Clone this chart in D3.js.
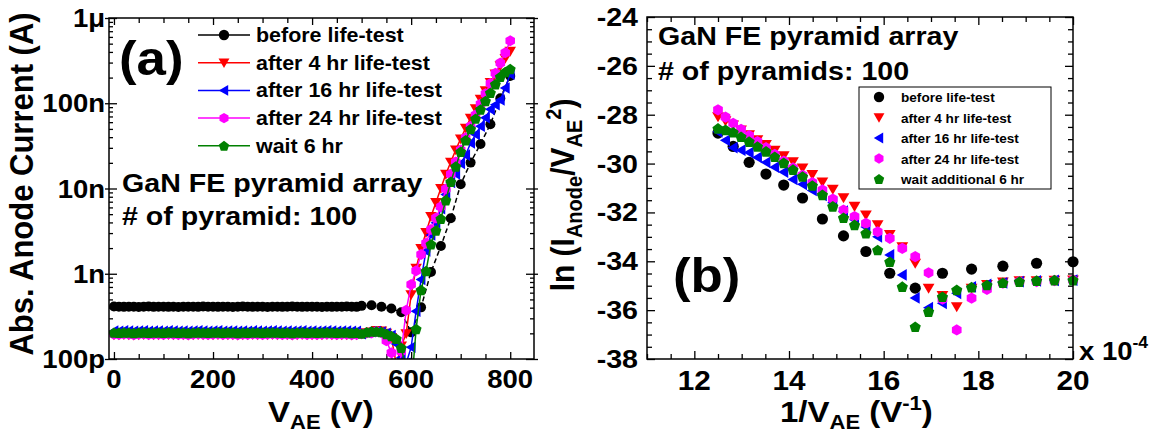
<!DOCTYPE html>
<html>
<head>
<meta charset="utf-8">
<script src="https://cdn.jsdelivr.net/npm/d3@7"></script>
<style>
  body { margin: 0; background: #fff; }
  svg { display: block; }
  text { font-family: "Liberation Sans", Arial, sans-serif; font-weight: bold; fill: #000; }
</style>
</head>
<body>
<div id="chart"></div>
<script>
// ---------------------------------------------------------------
// Data
// ---------------------------------------------------------------
const namesA = ["before life-test", "after 4 hr life-test", "after 16 hr life-test", "after 24 hr life-test", "wait 6 hr"];
const namesB = ["before life-test", "after 4 hr life-test", "after 16 hr life-test", "after 24 hr life-test", "wait additional 6 hr"];
const colors = ["#000000", "#ff0000", "#0000ff", "#ff00ff", "#008000"];
const shapes = ["circle", "down", "left", "hex", "pent"];

// flat (leakage) part, anode voltage in V, current in pA
const vLow = [0,10,20,30,40,50,60,70,80,90,100,110,120,130,140,150,160,170,180,190,
  200,210,220,230,240,250,260,270,280,290,300,310,320,330,340,350,360,370,380,390,
  400,410,420,430,440,450,460,470,480,490];
const lowBlack = [412,410,409,411,410,408,410,412,409,410,411,409,410,408,410,411,410,409,412,410,
  410,409,411,410,408,410,412,410,409,411,410,408,410,411,409,410,412,410,409,410,
  411,410,408,410,409,411,410,412,410,409];
const lowRed = [193,192,194,193,191,193,194,192,193,193,192,194,193,192,193,191,193,194,193,192,
  193,194,192,193,193,191,193,192,194,193,192,193,194,193,192,193,191,193,194,192,
  193,192,193,194,193,192,193,193,191,192];
const lowBlue = [213,212,214,213,211,213,214,212,213,213,212,214,213,212,213,211,213,214,213,212,
  213,214,212,213,213,211,213,212,214,213,212,213,214,213,212,213,211,213,214,212,
  213,212,213,214,213,212,213,213,211,212];
const lowMagenta = [195,194,196,195,193,195,196,194,195,195,194,196,195,194,195,193,195,196,195,194,
  195,196,194,195,195,193,195,194,196,195,194,195,196,195,194,195,193,195,196,194,
  195,194,195,196,195,194,195,195,193,194];
const lowGreen = [204,203,205,204,202,204,205,203,204,204,203,205,204,203,204,202,204,205,204,203,
  204,205,203,204,204,202,204,203,205,204,203,204,205,204,203,204,202,204,205,203,
  204,203,204,205,204,203,204,204,202,203];

// emission part, ln(I/V^2)
const vHighBlack = [500,520,540,560,580,600,620,640,660,680,700,720,740,760,780,800];
const vHigh = [500,510,520,530,540,550,560,570,580,590,600,610,620,630,640,650,660,670,680,690,
  700,710,720,730,740,750,760,770,780,790,800];
const lnBlack = [-34.02,-34.08,-34.20,-34.32,-34.49,-35.10,-34.49,-33.60,-32.96,-32.27,-31.41,-30.88,-30.43,-29.95,-29.30,-28.75];
const lnRed = [-34.77,-34.78,-34.80,-34.80,-34.85,-34.95,-35.10,-35.86,-35.40,-35.10,
  -34.08,-33.40,-32.90,-32.50,-32.10,-31.75,-31.40,-31.05,-30.75,-30.45,
  -30.18,-29.92,-29.68,-29.45,-29.22,-29.02,-28.82,-28.62,-28.42,-28.25,-28.08];
const lnBlue = [-34.77,-34.78,-34.80,-34.83,-34.88,-34.95,-35.05,-35.31,-35.72,-35.90,
  -35.50,-34.56,-33.74,-33.00,-32.60,-32.30,-31.95,-31.60,-31.30,-31.10,
  -30.85,-30.65,-30.35,-30.15,-29.95,-29.75,-29.55,-29.45,-29.35,-29.05,-28.70];
const lnMagenta = [-34.77,-34.79,-34.83,-34.83,-34.90,-35.15,-35.51,-36.81,-35.55,-34.47,
  -33.81,-33.47,-33.06,-32.79,-32.45,-32.17,-31.90,-31.45,-31.08,-30.78,
  -30.48,-30.18,-29.90,-29.62,-29.35,-29.10,-28.85,-28.60,-28.35,-28.10,-27.80];
const lnGreen = [-34.77,-34.77,-34.79,-34.83,-34.88,-34.97,-35.06,-35.17,-35.45,-36.06,
  -36.68,-35.04,-34.02,-33.54,-32.85,-32.51,-32.22,-31.75,-31.28,-30.90,
  -30.53,-30.25,-29.97,-29.72,-29.50,-29.30,-29.10,-28.90,-28.72,-28.62,-28.56];

// ticks
const aXTicks = [0, 200, 400, 600, 800];
const aYTicks = [1e-10, 1e-9, 1e-8, 1e-7, 1e-6];
const aYTickLabels = ["100p", "1n", "10n", "100n", "1\u03bc"];
const bXTicks = [12, 14, 16, 18, 20];
const bYTicks = [-38, -36, -34, -32, -30, -28, -26, -24];

// ---------------------------------------------------------------
const W = 1164, H = 438;
const SX = 1.1; // the original figure is a bit stretched sideways

const svg = d3.select("#chart").append("svg")
    .attr("width", W)
    .attr("height", H);
svg.append("rect").attr("width", W).attr("height", H).attr("fill", "#fff");

const series = [
  { low: lowBlack, vh: vHighBlack, ln: lnBlack },
  { low: lowRed, vh: vHigh, ln: lnRed },
  { low: lowBlue, vh: vHigh, ln: lnBlue },
  { low: lowMagenta, vh: vHigh, ln: lnMagenta },
  { low: lowGreen, vh: vHigh, ln: lnGreen }
].map((s, i) => ({
  ...s,
  color: colors[i],
  shape: shapes[i],
  ptsA: vLow.map((v, j) => ({ x: v, y: s.low[j] * 1e-12 }))
      .concat(s.vh.map((v, j) => ({ x: v, y: v * v * Math.exp(s.ln[j]) }))),
  ptsB: s.vh.map((v, j) => ({ x: 1e4 / v, y: s.ln[j] }))
}));

function marker(shape, r) {
  let p = [];
  if (shape === "circle") return d3.symbol(d3.symbolCircle, Math.PI * r * r)();
  if (shape === "down") p = [[-r * 1.05, -r * 0.8], [r * 1.05, -r * 0.8], [0, r * 1.0]];
  if (shape === "left") p = [[-r * 1.0, 0], [r * 0.8, -r * 1.05], [r * 0.8, r * 1.05]];
  if (shape === "hex") p = d3.range(6).map(k => [r * Math.cos(Math.PI / 6 + k * Math.PI / 3), r * Math.sin(Math.PI / 6 + k * Math.PI / 3)]);
  if (shape === "pent") p = d3.range(5).map(k => [r * 1.05 * Math.cos(-Math.PI / 2 + k * 2 * Math.PI / 5), r * 1.05 * Math.sin(-Math.PI / 2 + k * 2 * Math.PI / 5) + r * 0.1]);
  return "M" + p.map(d => d.join(",")).join("L") + "Z";
}

function addText(parent, x, y, size, anchor, rot) {
  return parent.append("text")
    .attr("transform", `translate(${x},${y}) scale(${SX},1)` + (rot ? ` rotate(${rot})` : ""))
    .attr("font-size", size)
    .attr("text-anchor", anchor || "start");
}

function ticks(g, axis, transform) {
  const t = g.append("g").attr("transform", transform).call(axis.tickFormat(""));
  t.select(".domain").remove();
  t.selectAll("line").attr("stroke", "#000").attr("stroke-width", 1.3);
}

// ---------------------------------------------------------------
// Panel (a)
// ---------------------------------------------------------------
const A = { left: 109, right: 534, top: 18, bottom: 359 };
const xA = d3.scaleLinear().domain([-10, 848]).range([A.left, A.right]);
const yA = d3.scaleLog().domain([1e-10, 1e-6]).range([A.bottom, A.top]);
const gA = svg.append("g");

svg.append("clipPath").attr("id", "clipA").append("rect")
  .attr("x", A.left).attr("y", A.top)
  .attr("width", A.right - A.left).attr("height", A.bottom - A.top);

const aXMinor = d3.range(0, 849, 50).filter(v => v % 200 !== 0);
const aYMinor = [1e-10, 1e-9, 1e-8, 1e-7].flatMap(d => d3.range(2, 10).map(k => d * k));

ticks(gA, d3.axisBottom(xA).tickValues(aXTicks).tickSize(-7), `translate(0,${A.bottom})`);
ticks(gA, d3.axisBottom(xA).tickValues(aXMinor).tickSize(-5), `translate(0,${A.bottom})`);
ticks(gA, d3.axisTop(xA).tickValues(aXTicks).tickSize(-7), `translate(0,${A.top})`);
ticks(gA, d3.axisTop(xA).tickValues(aXMinor).tickSize(-5), `translate(0,${A.top})`);
ticks(gA, d3.axisLeft(yA).tickValues(aYTicks).tickSizeInner(-8), `translate(${A.left},0)`);
ticks(gA, d3.axisLeft(yA).tickValues(aYTicks).tickSizeInner(4), `translate(${A.left},0)`);
ticks(gA, d3.axisLeft(yA).tickValues(aYMinor).tickSize(-4), `translate(${A.left},0)`);
ticks(gA, d3.axisRight(yA).tickValues(aYTicks).tickSizeInner(-8), `translate(${A.right},0)`);
ticks(gA, d3.axisRight(yA).tickValues(aYTicks).tickSizeInner(4), `translate(${A.right},0)`);
ticks(gA, d3.axisRight(yA).tickValues(aYMinor).tickSize(-4), `translate(${A.right},0)`);

const plotA = gA.append("g").attr("clip-path", "url(#clipA)");
const lineA = d3.line().x(d => xA(d.x)).y(d => yA(Math.max(d.y, 1e-12)));

series.forEach((s, i) => {
  plotA.append("path")
    .attr("d", lineA(s.ptsA))
    .attr("fill", "none")
    .attr("stroke", s.color)
    .attr("stroke-width", 1.5)
    .attr("stroke-dasharray", i === 0 ? "5,3" : null);
  plotA.selectAll(null)
    .data(s.ptsA.filter(d => d.y > 5e-11))
    .enter().append("path")
    .attr("transform", d => `translate(${xA(d.x)},${yA(d.y)})`)
    .attr("d", marker(s.shape, i === 0 ? 5 : 5.5))
    .attr("fill", s.color);
});

gA.append("rect")
  .attr("x", A.left).attr("y", A.top)
  .attr("width", A.right - A.left).attr("height", A.bottom - A.top)
  .attr("fill", "none").attr("stroke", "#000").attr("stroke-width", 1.5);

aYTicks.forEach((v, i) => addText(gA, A.left - 4, yA(v) + 9, 25, "end").text(aYTickLabels[i]));
aXTicks.forEach(v => addText(gA, xA(v), 388, 25, "middle").text(v));

// legend (a)
namesA.forEach((name, i) => {
  const y = 35 + i * 27.7;
  gA.append("line").attr("x1", 198).attr("x2", 250).attr("y1", y).attr("y2", y)
    .attr("stroke", colors[i]).attr("stroke-width", 1.5);
  gA.append("path").attr("transform", `translate(224,${y})`)
    .attr("d", marker(shapes[i], 5.2)).attr("fill", colors[i]);
  addText(gA, 256, y + 7, 19.5).text(name);
});

addText(gA, 119, 75, 48).text("(a)");
addText(gA, 122, 192, 26).text("GaN FE pyramid array");
addText(gA, 122, 225, 26).text("# of pyramid: 100");

const xTitleA = addText(gA, 268, 422, 30);
xTitleA.append("tspan").text("V");
xTitleA.append("tspan").attr("font-size", 20).attr("dy", 7).text("AE");
xTitleA.append("tspan").attr("dy", -7).text(" (V)");

addText(gA, 33, 184, 31, "middle", -90).text("Abs. Anode Current (A)");

// ---------------------------------------------------------------
// Panel (b)
// ---------------------------------------------------------------
const B = { left: 647, right: 1073, top: 17, bottom: 359 };
const xB = d3.scaleLinear().domain([11, 20]).range([B.left, B.right]);
const yB = d3.scaleLinear().domain([-38, -24]).range([B.bottom, B.top]);
const gB = svg.append("g");

const bXMinor = d3.range(11, 20.01, 0.5).filter(v => !bXTicks.includes(v));
const bYMinor = d3.range(-38, -23.99, 0.5).filter(v => !bYTicks.includes(v));

ticks(gB, d3.axisBottom(xB).tickValues(bXTicks).tickSize(-8), `translate(0,${B.bottom})`);
ticks(gB, d3.axisBottom(xB).tickValues(bXMinor).tickSize(-5), `translate(0,${B.bottom})`);
ticks(gB, d3.axisTop(xB).tickValues(bXTicks).tickSize(-8), `translate(0,${B.top})`);
ticks(gB, d3.axisTop(xB).tickValues(bXMinor).tickSize(-5), `translate(0,${B.top})`);
ticks(gB, d3.axisLeft(yB).tickValues(bYTicks).tickSize(-8), `translate(${B.left},0)`);
ticks(gB, d3.axisLeft(yB).tickValues(bYMinor).tickSize(-5), `translate(${B.left},0)`);
ticks(gB, d3.axisRight(yB).tickValues(bYTicks).tickSize(-8), `translate(${B.right},0)`);
ticks(gB, d3.axisRight(yB).tickValues(bYMinor).tickSize(-5), `translate(${B.right},0)`);

series.forEach(s => {
  gB.selectAll(null)
    .data(s.ptsB)
    .enter().append("path")
    .attr("transform", d => `translate(${xB(d.x)},${yB(d.y)})`)
    .attr("d", marker(s.shape, 5.6))
    .attr("fill", s.color);
});

gB.append("rect")
  .attr("x", B.left).attr("y", B.top)
  .attr("width", B.right - B.left).attr("height", B.bottom - B.top)
  .attr("fill", "none").attr("stroke", "#000").attr("stroke-width", 1.5);

bYTicks.forEach(v => addText(gB, B.left - 9, yB(v) + 9, 26, "end").text(v));
bXTicks.forEach(v => addText(gB, xB(v), 390, 27, "middle").text(v));

const expo = addText(gB, 1079, 360, 25);
expo.append("tspan").text("x 10");
expo.append("tspan").attr("font-size", 16).attr("dy", -12).text("-4");

addText(gB, 658, 45, 26).text("GaN FE pyramid array");
addText(gB, 658, 80, 26).text("# of pyramids: 100");
addText(gB, 673, 292, 48).text("(b)");

// legend (b)
gB.append("rect").attr("x", 859).attr("y", 87).attr("width", 192).attr("height", 102)
  .attr("fill", "#fff").attr("stroke", "#000").attr("stroke-width", 1);
namesB.forEach((name, i) => {
  const y = 97 + i * 20.5;
  gB.append("path").attr("transform", `translate(879,${y})`)
    .attr("d", marker(shapes[i], 5.2)).attr("fill", colors[i]);
  gB.append("text").attr("x", 901).attr("y", y + 5)
    .attr("font-family", "DejaVu Sans").attr("font-size", 13.6).text(name);
});

const xTitleB = addText(gB, 780, 422, 30);
xTitleB.append("tspan").text("1/V");
xTitleB.append("tspan").attr("font-size", 20).attr("dy", 7).text("AE");
xTitleB.append("tspan").attr("dy", -7).text(" (V");
xTitleB.append("tspan").attr("font-size", 20).attr("dy", -12).text("-1");
xTitleB.append("tspan").attr("dy", 12).text(")");

const yTitleB = addText(gB, 574, 195, 30, "middle", -90);
yTitleB.append("tspan").text("ln (I");
yTitleB.append("tspan").attr("font-size", 20).attr("dy", 7).text("Anode");
yTitleB.append("tspan").attr("dy", -7).text("/V");
yTitleB.append("tspan").attr("font-size", 20).attr("dy", 7).text("AE");
yTitleB.append("tspan").attr("font-size", 20).attr("dy", -19).text("2");
yTitleB.append("tspan").attr("dy", 12).text(")");
</script>
</body>
</html>
